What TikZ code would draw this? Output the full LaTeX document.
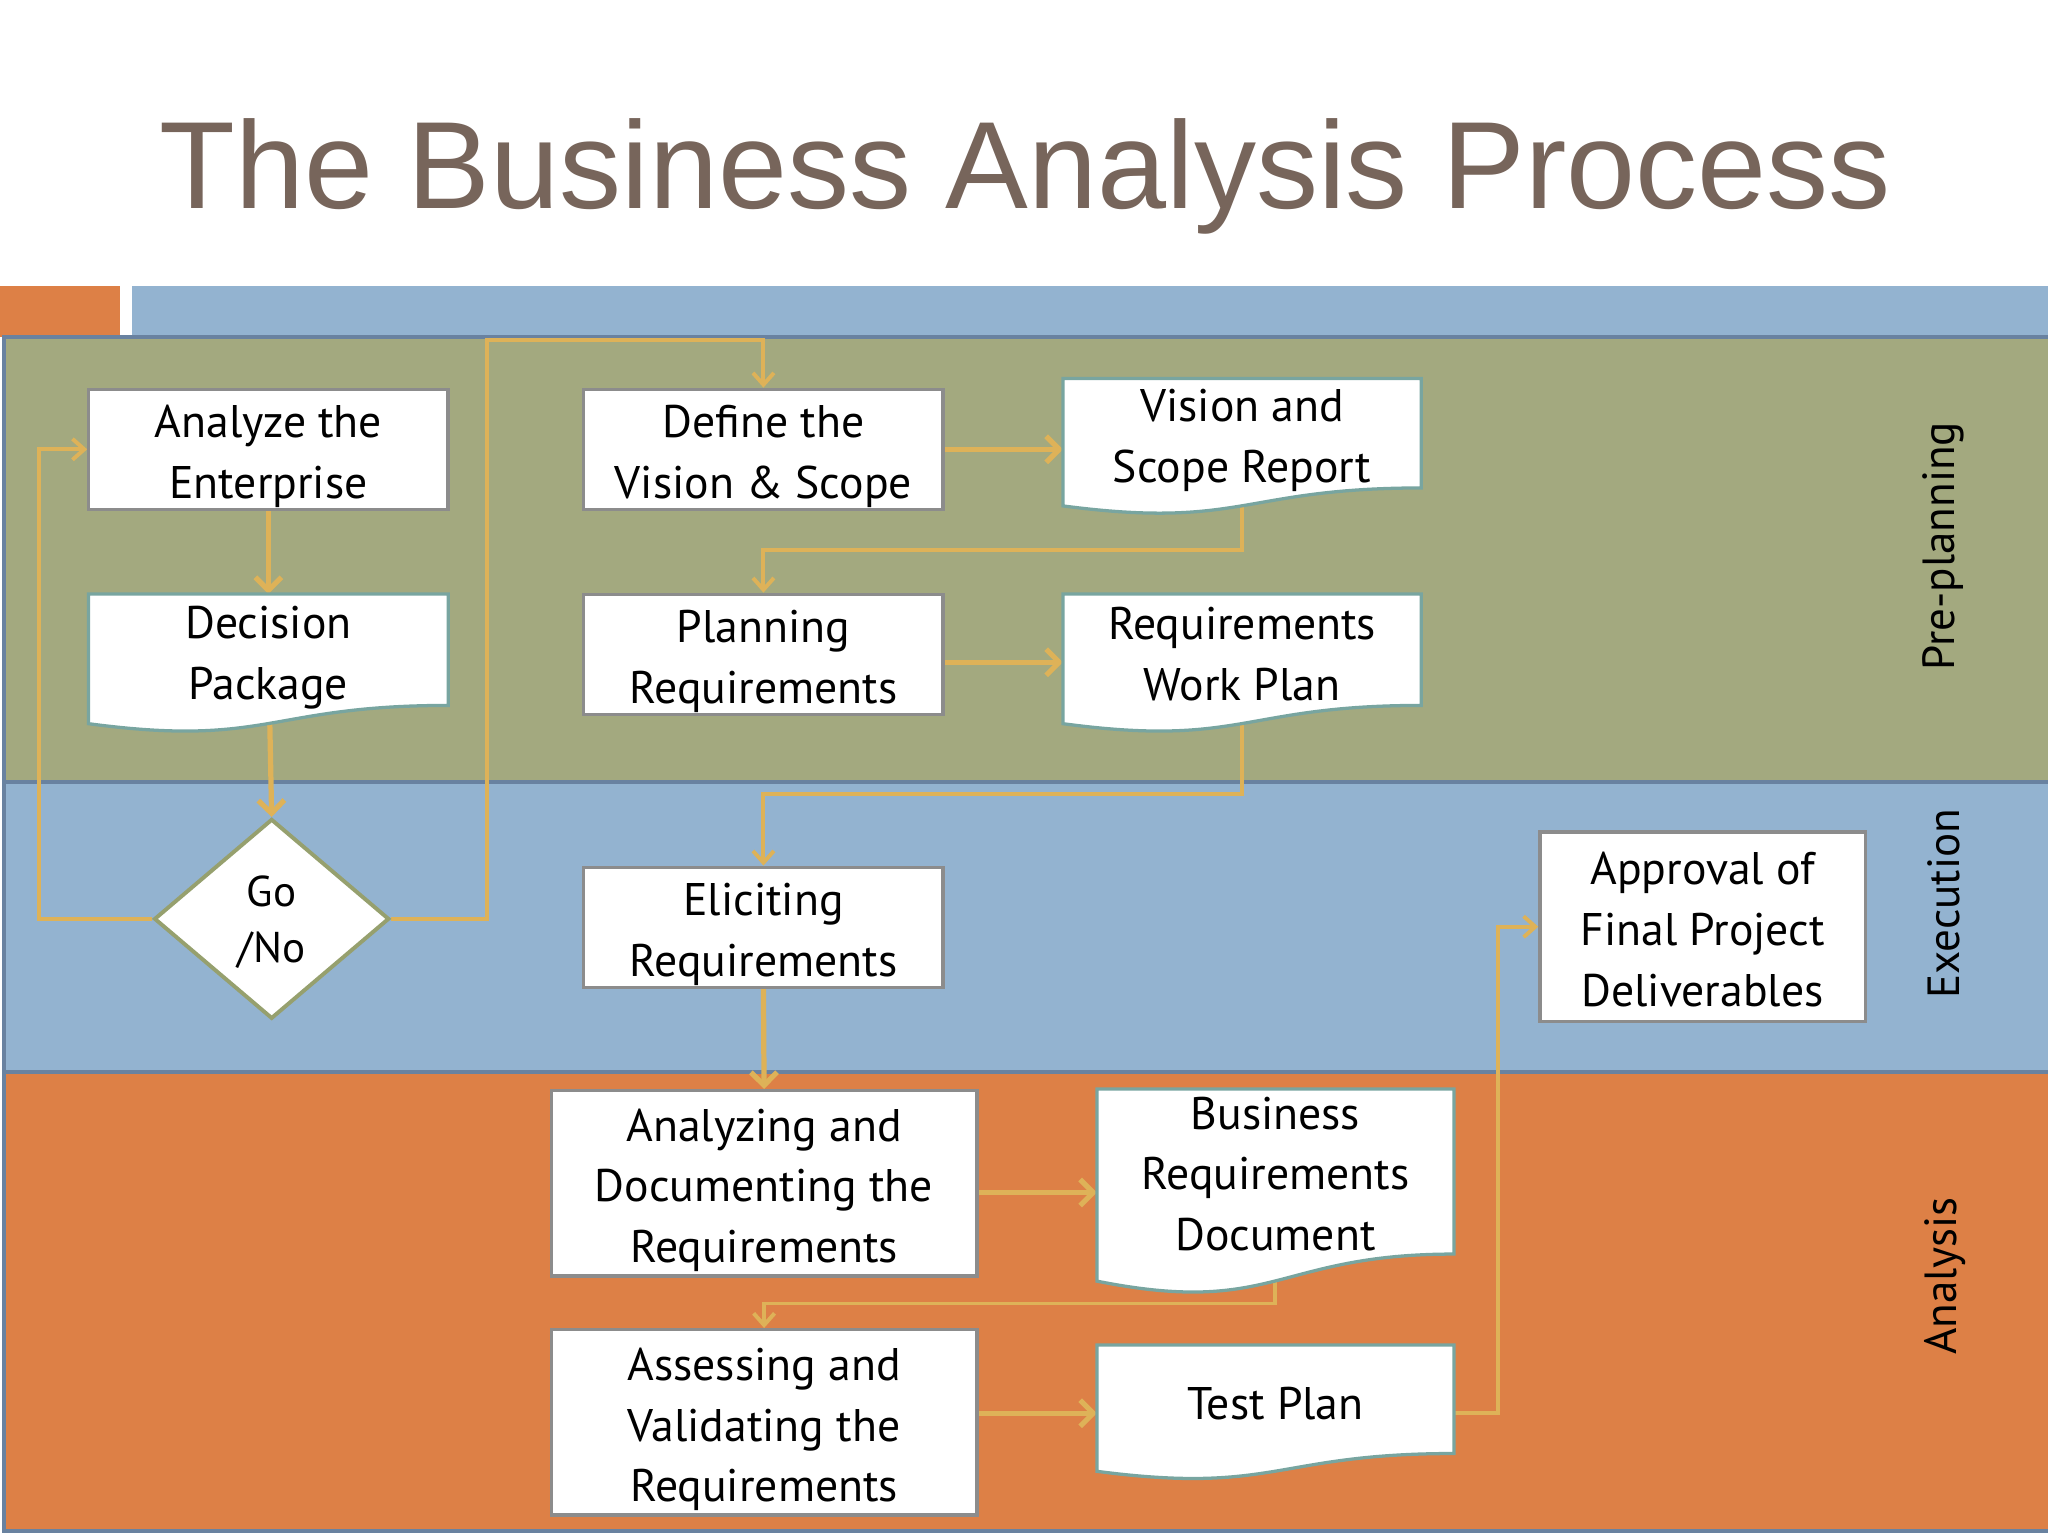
\documentclass[tikz,border=0pt]{standalone}
\usepackage{fontspec}
\newfontfamily\titlefont{Liberation Sans}
\newfontfamily\boxfont{PT Sans}
\usetikzlibrary{shapes.geometric,arrows.meta,calc}
\definecolor{titlec}{RGB}{119,101,91}
\definecolor{olive}{RGB}{163,169,127}
\definecolor{bluel}{RGB}{147,179,208}
\definecolor{orangel}{RGB}{221,128,70}
\definecolor{laneb}{RGB}{105,130,160}
\definecolor{gold}{RGB}{222,178,88}
\definecolor{boxb}{RGB}{140,140,140}
\definecolor{docb}{RGB}{120,165,160}
\definecolor{diab}{RGB}{150,160,110}
\newcommand{\uplift}[1]{\rule{0pt}{#1}}
\pgfdeclarelayer{bg}
\pgfdeclarelayer{lines}
\pgfdeclarelayer{docs}
\pgfsetlayers{bg,lines,docs,main}
\tikzset{
  proc/.style={rectangle, draw=boxb, line width=2.5pt, fill=white, inner sep=0pt,
    align=center, font=\boxfont\fontsize{35}{46.5}\selectfont, text=black},
  docnode/.style={rectangle, inner sep=0pt, align=center,
    font=\boxfont\fontsize{35}{46.5}\selectfont, text=black},
  docline/.style={draw=docb, line width=2.5pt, fill=white},
  decis/.style={diamond, draw=diab, line width=3pt, fill=white, inner sep=0pt,
    minimum width=180pt, minimum height=153pt, align=center,
    font=\boxfont\fontsize{33}{43}\selectfont},
  thickc/.style={draw=gold, line width=4pt, -{Straight Barb[length=10pt,width=20pt]}},
  thinc/.style={draw=gold, line width=3pt, -{Straight Barb[length=9pt,width=16pt]}},
  lanelabel/.style={rotate=90, font=\boxfont\fontsize{34.5}{40}\selectfont, text=black},
}
\newcommand{\docshape}[1]{%
  \begin{pgfonlayer}{docs}
  \draw[docline] (#1.north west) -- (#1.north east)
    -- ($(#1.north east)!0.933!(#1.south east)$)
    .. controls ($(#1.north)!0.933!(#1.south)$) and ($(#1.north)!1.287!(#1.south)$)
    .. ($(#1.north west)!1.086!(#1.south west)$) -- cycle;
  \end{pgfonlayer}}
\begin{document}
\begin{tikzpicture}[x=1pt,y=-1pt]
\useasboundingbox (0,0) rectangle (1568,1176);
\begin{pgfonlayer}{bg}
  \fill[white] (0,0) rectangle (1568,1176);
  \fill[orangel] (0,219) rectangle (92,258);
  \fill[bluel] (101,219) rectangle (1568,258);
  \fill[olive] (3,258) rectangle (1570,599);
  \fill[bluel] (3,599) rectangle (1570,821);
  \fill[orangel] (3,821) rectangle (1570,1172);
  \draw[laneb, line width=3pt] (1570,258) -- (3,258) -- (3,1172) -- (1570,1172);
  \draw[laneb, line width=3pt] (3,599) -- (1570,599);
  \draw[laneb, line width=3pt] (3,821) -- (1570,821);
\end{pgfonlayer}

\node[anchor=base, font=\titlefont\fontsize{95}{110}\selectfont, text=titlec] (title) at (785,160) {The Business Analysis Process};

\node[lanelabel] (lpre) at (1488,418) {Pre-planning};
\node[lanelabel] (lexe) at (1488,692) {Execution};
\node[lanelabel] (lana) at (1489,977) {Analysis};

% process boxes
\node[proc, minimum width=275pt, minimum height=92pt] (ana) at (205.5,344) {\uplift{35.5pt}Analyze the\\Enterprise};
\node[proc, minimum width=275pt, minimum height=92pt] (def) at (584.5,344) {\uplift{35.5pt}Define the\\Vision \& Scope};
\node[proc, minimum width=275pt, minimum height=92pt] (pr) at (584.5,501) {\uplift{35.5pt}Planning\\Requirements};
\node[proc, minimum width=275pt, minimum height=92pt] (eli) at (584.5,710) {\uplift{35.5pt}Eliciting\\Requirements};
\node[proc, minimum width=249pt, minimum height=145pt] (app) at (1303.5,709.5) {\uplift{29pt}Approval of\\Final Project\\Deliverables};
\node[proc, minimum width=326pt, minimum height=142pt] (adr) at (585,906) {\uplift{35.5pt}Analyzing and\\Documenting the\\Requirements};
\node[proc, minimum width=326pt, minimum height=142pt] (avr) at (585,1089) {\uplift{35.5pt}Assessing and\\Validating the\\Requirements};

% documents
\node[docnode, minimum width=274pt, minimum height=89.4pt] (vsr) at (951,334.7) {\uplift{30pt}Vision and\\Scope Report};
\node[docnode, minimum width=275pt, minimum height=91pt] (dp) at (205.5,500.5) {\uplift{31pt}Decision\\Package};
\node[docnode, minimum width=274pt, minimum height=91pt] (rwp) at (951,500.5) {Requirements\\Work Plan};
\node[docnode, minimum width=273pt, minimum height=135pt] (brd) at (976.5,901.5) {Business\\Requirements\\Document\rule[-6pt]{0pt}{1pt}};
\node[docnode, minimum width=273pt, minimum height=88.6pt] (tp) at (976.5,1074.3) {Test Plan};
\docshape{vsr}
\docshape{dp}
\docshape{rwp}
\docshape{brd}
\docshape{tp}

% decision
\node[decis] (gn) at (208,703.5) {\uplift{29pt}Go\\/No};

% bend coordinates
\coordinate (l1) at (30,344);
\coordinate (r1) at (373,260);
\coordinate (k1) at (584.5,421);
\coordinate (k2) at (584.5,608);
\coordinate (k3) at (585,998);
\coordinate (k4) at (1147,1082);
\coordinate (y913) at (0,913);
\coordinate (y1082) at (0,1082);
\coordinate (y507) at (0,507);

\begin{pgfonlayer}{lines}
  \draw[thickc] (ana.south) -- (dp.north);
  \draw[thickc] (dp.center) -- (gn.north);
  \draw[thickc] (def.east) -- (def.east -| vsr.west);
  \draw[thickc] (pr.east |- y507) -- (rwp.west |- y507);
  \draw[thickc] (eli.south) -- (adr.north);
  \draw[thickc] (adr.east |- y913) -- (brd.west |- y913);
  \draw[thickc] (avr.east |- y1082) -- (tp.west |- y1082);
  \draw[thinc] (gn.west) -| (l1) -- (ana.west);
  \draw[thinc] (gn.east) -| (r1) -| (def.north);
  \draw[thinc] (vsr.center) |- (k1) -- (pr.north);
  \draw[thinc] (rwp.center) |- (k2) -- (eli.north);
  \draw[thinc] (brd.center) |- (k3) -- (avr.north);
  \draw[thinc] (tp.east |- y1082) -- (k4) |- (app.west);
\end{pgfonlayer}
\end{tikzpicture}
\end{document}
